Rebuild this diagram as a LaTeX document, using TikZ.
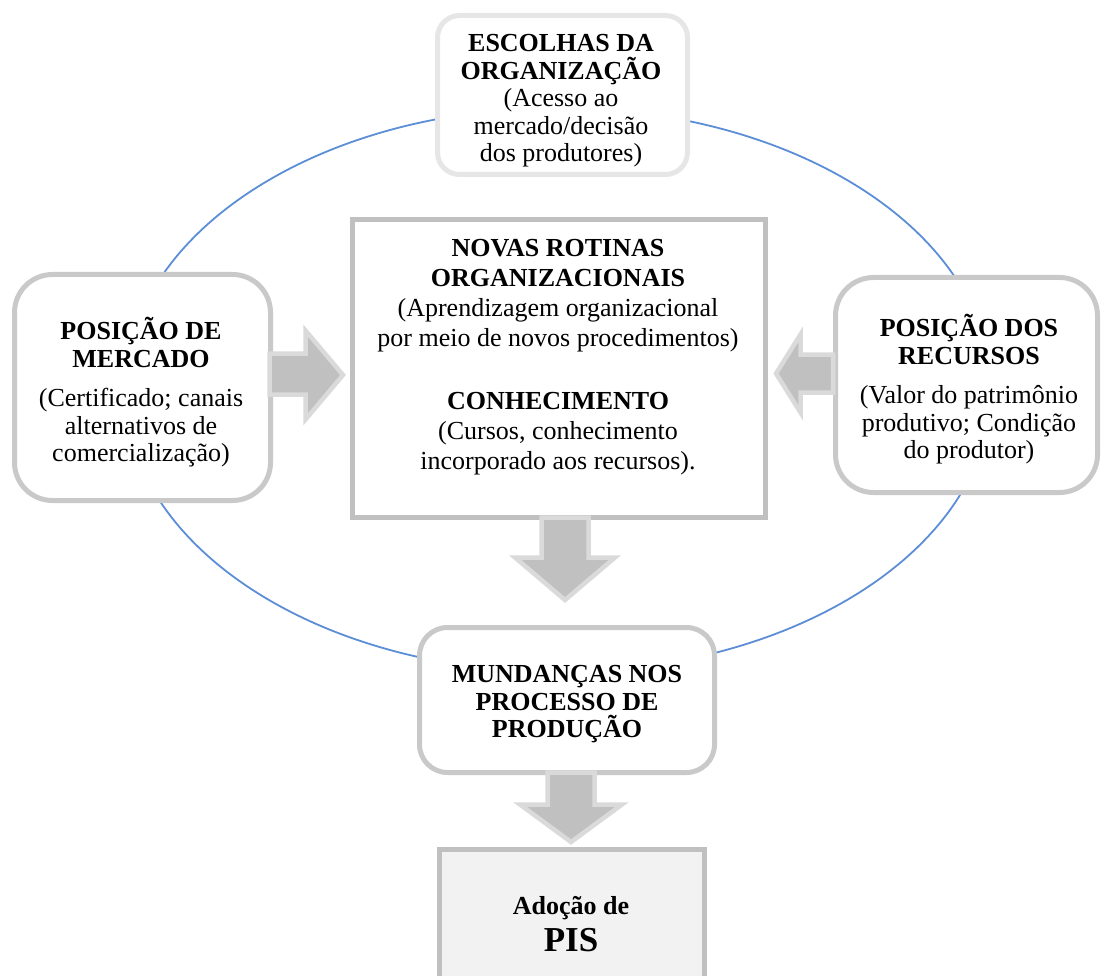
\documentclass[tikz,border=0pt]{standalone}
\usepackage{fontspec}
\setmainfont{Liberation Serif}
\definecolor{boxgray}{HTML}{C9C9C9}
\definecolor{sharpgray}{HTML}{C0C0C0}
\definecolor{toplight}{HTML}{E6E6E6}
\definecolor{arrfill}{HTML}{C0C0C0}
\definecolor{arrline}{HTML}{DADADA}
\definecolor{ringblue}{HTML}{5B8ED6}
\definecolor{pisfill}{HTML}{F2F2F2}
\begin{document}
\begin{tikzpicture}[x=1pt,y=-1pt,
  box/.style={draw=boxgray, line width=5pt, fill=white, inner sep=0pt},
  boxtext/.style={align=center, inner sep=0pt, font=\fontsize{26}{27.5}\selectfont},
  blockarrow/.style={fill=arrfill, draw=arrline, line width=4.5pt, line join=miter},
  ring/.style={draw=ringblue, line width=1.8pt}
]
\useasboundingbox (0,0) rectangle (1103,976);
\begin{scope}
\clip (0,0) rectangle (1103,976);
% ring behind the boxes
\draw[ring] (558,390) ellipse [x radius=433, y radius=282];

% top box
\node[box, draw=toplight, rounded corners=22pt, minimum width=250pt, minimum height=159pt]
  (T) at (562.5,95) {};
\node[boxtext] (Tt) at (561,101)
  {\textbf{ESCOLHAS DA}\\\textbf{ORGANIZAÇÃO}\\(Acesso ao\\mercado/decisão\\dos produtores)};

% left box
\node[box, rounded corners=38pt, minimum width=256pt, minimum height=226pt]
  (L) at (142.5,387.5) {};
\node[boxtext] (Lt) at (141,392.5)
  {\textbf{POSIÇÃO DE}\\\textbf{MERCADO}\\[12pt](Certificado; canais\\alternativos de\\comercialização)};

% right box
\node[box, rounded corners=38pt, minimum width=262pt, minimum height=215pt]
  (R) at (966.5,385) {};
\node[boxtext] (Rt) at (969,389.5)
  {\textbf{POSIÇÃO DOS}\\\textbf{RECURSOS}\\[12pt](Valor do patrimônio\\produtivo; Condição\\do produtor)};

% centre box
\node[box, draw=sharpgray, minimum width=413pt, minimum height=298pt] (C) at (559,368.5) {};
\node[boxtext, font=\fontsize{26}{30}\selectfont] (Ct) at (558,357)
  {\textbf{NOVAS ROTINAS}\\\textbf{ORGANIZACIONAIS}\\(Aprendizagem organizacional\\por meio de novos procedimentos)\\[33pt]\textbf{CONHECIMENTO}\\(Cursos, conhecimento\\incorporado aos recursos).};

% bottom rounded box
\node[box, rounded corners=28pt, minimum width=295pt, minimum height=145pt]
  (M) at (567,700) {};
\node[boxtext] (Mt) at (567,704.5)
  {\textbf{MUNDANÇAS NOS}\\\textbf{PROCESSO DE}\\\textbf{PRODUÇÃO}};

% PIS box
\node[box, draw=sharpgray, fill=pisfill, minimum width=265pt, minimum height=150.5pt]
  (P) at (572,924.75) {};
\node[boxtext, font=\fontsize{26}{28}\selectfont] (Pt) at (571,924)
  {\textbf{Adoção de}\\[7pt]{\fontsize{35}{37}\selectfont\textbf{PIS}}};

% block arrows
\draw[blockarrow] (269.5,353.5) -- (305.5,353.5) -- (305.5,330.5) -- (343,375)
  -- (305.5,419.5) -- (305.5,394.5) -- (269.5,394.5) -- cycle;
\draw[blockarrow] (833,354.5) -- (800.5,354.5) -- (800.5,334.5) -- (776,373.5)
  -- (800.5,412.5) -- (800.5,392.5) -- (833,392.5) -- cycle;
\draw[blockarrow] (541.5,517.5) -- (588.5,517.5) -- (588.5,557.5) -- (615,557.5)
  -- (565,600) -- (515,557.5) -- (541.5,557.5) -- cycle;
\draw[blockarrow] (547.5,772.5) -- (594.5,772.5) -- (594.5,804.5) -- (622,804.5)
  -- (571,842) -- (520,804.5) -- (547.5,804.5) -- cycle;
\end{scope}
\end{tikzpicture}
\end{document}
